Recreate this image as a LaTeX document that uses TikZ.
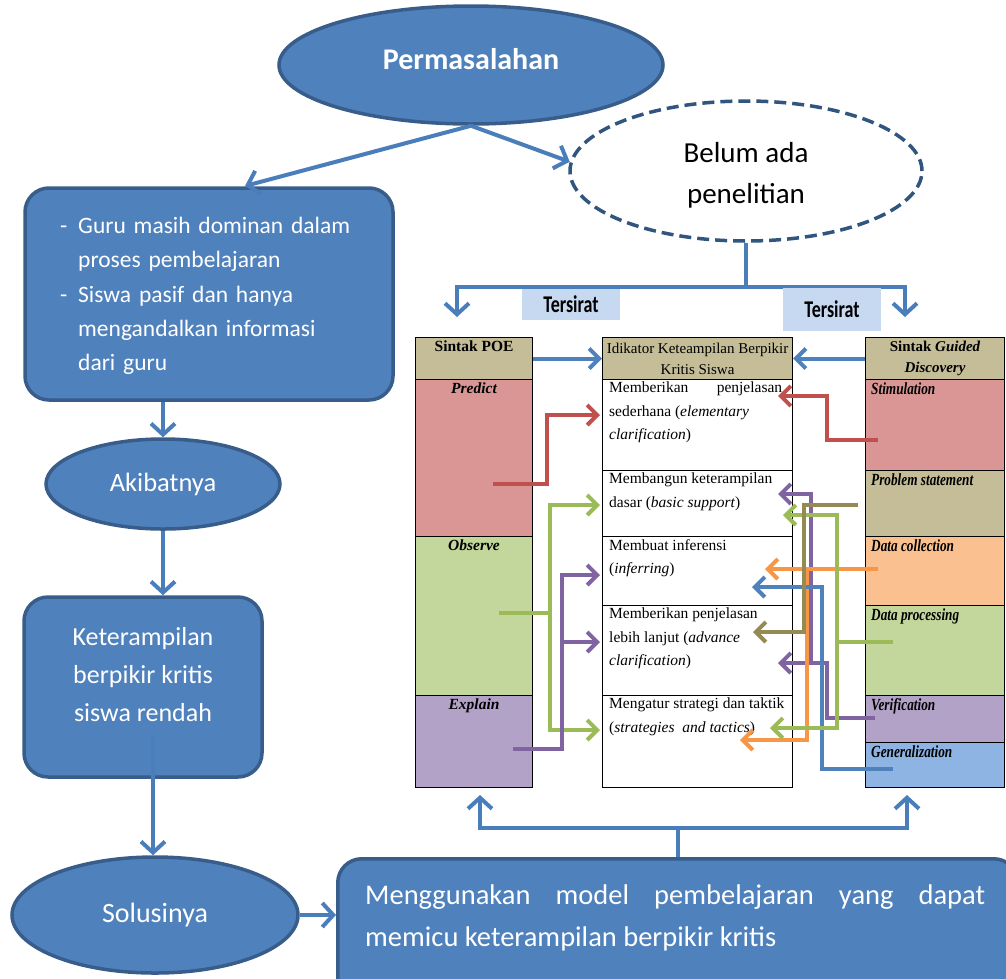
\documentclass[tikz,border=0pt]{standalone}
\usepackage{fontspec}
\setmainfont{Liberation Serif}
\newfontfamily\calib{Carlito}
\newfontfamily\calibcond[FakeStretch=0.75]{Carlito}
\newfontfamily\condserif[FakeStretch=0.78]{Liberation Serif}
\usetikzlibrary{arrows.meta,shapes.geometric,calc}
\definecolor{mblue}{HTML}{4F81BD}
\definecolor{bdr}{HTML}{385D8A}
\definecolor{ablue}{HTML}{4A7EBB}
\definecolor{dbdr}{HTML}{30557F}
\definecolor{lblue}{HTML}{C6D9F1}
\definecolor{ctan}{HTML}{C4BD97}
\definecolor{cred}{HTML}{D99694}
\definecolor{cgreen}{HTML}{C3D69B}
\definecolor{cpurp}{HTML}{B3A2C7}
\definecolor{corange}{HTML}{FAC090}
\definecolor{cblue}{HTML}{8DB4E2}
\definecolor{ared}{HTML}{C0504D}
\definecolor{agreen}{HTML}{9BBB59}
\definecolor{apurp}{HTML}{8064A2}
\definecolor{aolive}{HTML}{948A54}
\definecolor{aorange}{HTML}{F79646}
\newcommand\tabfont{\fontsize{15}{21}\selectfont}
\newcommand\tabfontm{\fontsize{15.5}{23.5}\selectfont}
\begin{document}
\begin{tikzpicture}[x=1pt,y=-1pt,
  ell/.style={ellipse, draw=bdr, fill=mblue, line width=3.5pt, inner sep=0pt, text=white},
  rbox/.style={draw=bdr, fill=mblue, line width=3.5pt, rounded corners=24pt, inner sep=0pt},
  wtext/.style={text=white, inner sep=0pt},
  flow/.style={draw=ablue, line width=4pt, -{Straight Barb[length=11pt,width=24pt]}},
  tarrow/.style={line width=4pt, -{Straight Barb[length=10pt,width=20pt]}},
  cell/.style={draw=black, line width=1.1pt, anchor=north west, inner sep=0pt, align=center, font=\tabfont},
  lbl/.style={anchor=north, inner sep=4pt, font=\fontsize{15.5}{21}\selectfont},
  mlbl/.style={anchor=north west, inner xsep=7pt, inner ysep=3pt, align=left, font=\tabfontm},
  rlbl/.style={anchor=north west, inner xsep=6pt, inner ysep=3pt, font=\condserif\bfseries\itshape\fontsize{17}{20}\selectfont},
  tersbox/.style={fill=lblue, inner sep=0pt, minimum width=98pt, font=\calibcond\bfseries\fontsize{24}{26}\selectfont},
  beltext/.style={align=center, inner sep=0pt, yshift=-4pt, font=\calib\fontsize{29}{41}\selectfont}
]
\useasboundingbox (0,0) rectangle (1006,978);
\clip (0,0) rectangle (1006,978);

% ---------- left flow ----------
\node[ell, minimum width=384pt, minimum height=118pt, text depth=12pt,
      font=\calib\bfseries\fontsize{30}{36}\selectfont] (perm) at (471,65) {Permasalahan};
\node[ellipse, draw=dbdr, dash pattern=on 12pt off 6pt, line width=3.5pt, fill=white,
      minimum width=352pt, minimum height=140pt, inner sep=0pt,
      label={[beltext]center:{Belum ada\\penelitian}}] (belum) at (746,171) {};

\node[rbox, minimum width=368pt, minimum height=212pt] (b1) at (209,294) {};
\node[wtext, text width=300pt, align=left, anchor=west,
      font=\calib\fontsize{23.5}{34.3}\selectfont] (b1t) at (60,296)
  {\makebox[18pt][l]{-}Guru masih dominan dalam\\
   \hspace*{18pt}proses pembelajaran\\
   \makebox[18pt][l]{-}Siswa pasif dan hanya\\
   \hspace*{18pt}mengandalkan informasi\\
   \hspace*{18pt}dari guru};

\node[ell, minimum width=234pt, minimum height=90pt,
      font=\calib\fontsize{26.5}{30}\selectfont] (aki) at (163,484) {Akibatnya};

\node[rbox, minimum width=238pt, minimum height=180pt] (kete) at (143,687) {};
\node[wtext, align=center, font=\calib\fontsize{26}{38}\selectfont] (ketet) at (143,675)
  {Keterampilan\\berpikir kritis\\siswa rendah};

\node[ell, minimum width=286pt, minimum height=116pt,
      font=\calib\fontsize{28}{32}\selectfont] (solu) at (155,915) {Solusinya};

\node[rbox, minimum width=680pt, minimum height=150pt, anchor=north west] (bot) at (336,857) {};
\node[wtext, anchor=north west, align=left, font=\calib\fontsize{28.5}{42}\selectfont] (bott) at (365,884)
  {\makebox[620pt][s]{Menggunakan model pembelajaran yang dapat}\\memicu keterampilan berpikir kritis};

% flow connectors
\coordinate (b1n) at (245,186);
\draw[flow] (perm.south) -- (b1n);
\draw[flow] (perm.south) -- (belum.177);
\draw[flow] (aki.north |- b1.south) -- (aki.north);
\draw[flow] (aki.south) -- (aki.south |- kete.north);
\coordinate (ks) at (153,736);
\draw[flow] (ks) -- (ks |- solu.north);
\draw[flow] (solu.east) -- (bot.west |- solu.east);

% top split
\coordinate (tl) at (457,317);
\coordinate (tr) at (905,317);
\draw[flow] (belum.south) -- ++(0,44) -| (tl);
\draw[flow] (belum.south) -- ++(0,44) -| (tr);
\node[tersbox, minimum height=31pt] (ters1) at (571,304) {Tersirat};
\node[tersbox, minimum height=43pt] (ters2) at (832,309) {Tersirat};

% bottom split
\coordinate (bl) at (480,795);
\coordinate (br) at (907,795);
\draw[flow] (bot.north) -- ++(0,-29) -| (bl);
\draw[flow] (bot.north) -- ++(0,-29) -| (br);

% ---------- table ----------
% left column
\node[cell, fill=ctan, minimum width=117pt, minimum height=42pt,
      label={[lbl]north:\bfseries Sintak POE}] (poeH) at (415,337) {};
\node[cell, fill=cred, minimum width=117pt, minimum height=157pt,
      label={[lbl]north:\bfseries\itshape Predict}] (pred) at (415,379) {};
\node[cell, fill=cgreen, minimum width=117pt, minimum height=159pt,
      label={[lbl]north:\bfseries\itshape Observe}] (obs) at (415,536) {};
\node[cell, fill=cpurp, minimum width=117pt, minimum height=92pt,
      label={[lbl]north:\bfseries\itshape Explain}] (expl) at (415,695) {};

% middle column
\node[cell, fill=ctan, minimum width=190pt, minimum height=42pt] (midH) at (602,337)
  {Idikator Keteampilan Berpikir\\Kritis Siswa};
\node[cell, fill=white, minimum width=190pt, minimum height=91pt,
      label={[mlbl]north west:{\makebox[173pt][s]{Memberikan penjelasan}\\sederhana (\textit{elementary}\\\textit{clarification})}}] (m1) at (602,379) {};
\node[cell, fill=white, minimum width=190pt, minimum height=66pt,
      label={[mlbl]north west:{Membangun keterampilan\\dasar (\textit{basic support})}}] (m2) at (602,470) {};
\node[cell, fill=white, minimum width=190pt, minimum height=69pt,
      label={[mlbl]north west:{Membuat inferensi\\(\textit{inferring})}}] (m3) at (602,536) {};
\node[cell, fill=white, minimum width=190pt, minimum height=90pt,
      label={[mlbl]north west:{Memberikan penjelasan\\lebih lanjut (\textit{advance}\\\textit{clarification})}}] (m4) at (602,605) {};
\node[cell, fill=white, minimum width=190pt, minimum height=92pt,
      label={[mlbl]north west:{Mengatur strategi dan taktik\\(\textit{strategies\ \ and tactics})}}] (m5) at (602,695) {};

% right column
\node[cell, fill=ctan, minimum width=139pt, minimum height=42pt] (gdH) at (865,337)
  {\bfseries Sintak \textit{Guided}\\\bfseries\itshape Discovery};
\node[cell, fill=cred, minimum width=139pt, minimum height=91pt,
      label={[rlbl]north west:Stimulation}] (stim) at (865,379) {};
\node[cell, fill=ctan, minimum width=139pt, minimum height=66pt,
      label={[rlbl]north west:Problem statement}] (prob) at (865,470) {};
\node[cell, fill=corange, minimum width=139pt, minimum height=69pt,
      label={[rlbl]north west:Data collection}] (dcol) at (865,536) {};
\node[cell, fill=cgreen, minimum width=139pt, minimum height=90pt,
      label={[rlbl]north west:Data processing}] (dpro) at (865,605) {};
\node[cell, fill=cpurp, minimum width=139pt, minimum height=47pt,
      label={[rlbl]north west:Verification}] (veri) at (865,695) {};
\node[cell, fill=cblue, minimum width=139pt, minimum height=45pt,
      label={[rlbl]north west:Generalization}] (gene) at (865,742) {};

% header arrows
\draw[tarrow, draw=mblue] (poeH.east) -- (midH.west);
\draw[tarrow, draw=mblue] (gdH.west) -- (midH.east);

% left table arrows
\coordinate (rS) at (493,484); \coordinate (rJ) at (547,484); \coordinate (rE) at (600,415);
\draw[tarrow, draw=ared] (rS) -- (rJ) |- (rE);
\coordinate (gS) at (499,613); \coordinate (gJ) at (550,613);
\coordinate (gE1) at (600,505); \coordinate (gE2) at (600,730);
\draw[tarrow, draw=agreen] (gS) -- (gJ) |- (gE1);
\draw[tarrow, draw=agreen] (gJ) |- (gE2);
\coordinate (pS) at (513,749); \coordinate (pJ) at (562,749);
\coordinate (pE1) at (600,575); \coordinate (pE2) at (600,642);
\draw[tarrow, draw=apurp] (pS) -- (pJ) |- (pE1);
\draw[tarrow, draw=apurp] (pJ |- pE2) -- (pE2);

% right table arrows
\coordinate (qS) at (878,440); \coordinate (qJ) at (827,440); \coordinate (qE) at (778,396);
\draw[tarrow, draw=ared] (qS) -- (qJ) |- (qE);
\coordinate (wS) at (875,718); \coordinate (wJ) at (827,718);
\coordinate (wE2) at (778,663); \coordinate (wK) at (811,663); \coordinate (wE1) at (778,494);
\draw[tarrow, draw=apurp] (wS) -- (wJ) |- (wE2);
\draw[tarrow, draw=apurp] (wK) |- (wE1);
\coordinate (uS) at (878,569); \coordinate (uE1) at (765,569);
\coordinate (uJ) at (807,569); \coordinate (uE2) at (740,740);
\draw[tarrow, draw=aorange] (uS) -- (uE1);
\draw[tarrow, draw=aorange] (uJ) |- (uE2);
\coordinate (vS) at (893,769); \coordinate (vJ) at (822,769); \coordinate (vE) at (752,587);
\draw[tarrow, draw=mblue] (vS) -- (vJ) |- (vE);
\coordinate (hS) at (893,642); \coordinate (hJ) at (837,642);
\coordinate (hE1) at (783,515); \coordinate (hE2) at (770,728);
\draw[tarrow, draw=agreen] (hS) -- (hJ) |- (hE1);
\draw[tarrow, draw=agreen] (hJ) |- (hE2);
\coordinate (oS) at (858,505); \coordinate (oJ) at (804,505); \coordinate (oE) at (753,632);
\draw[tarrow, draw=aolive] (oS) -- (oJ) |- (oE);
\end{tikzpicture}
\end{document}
